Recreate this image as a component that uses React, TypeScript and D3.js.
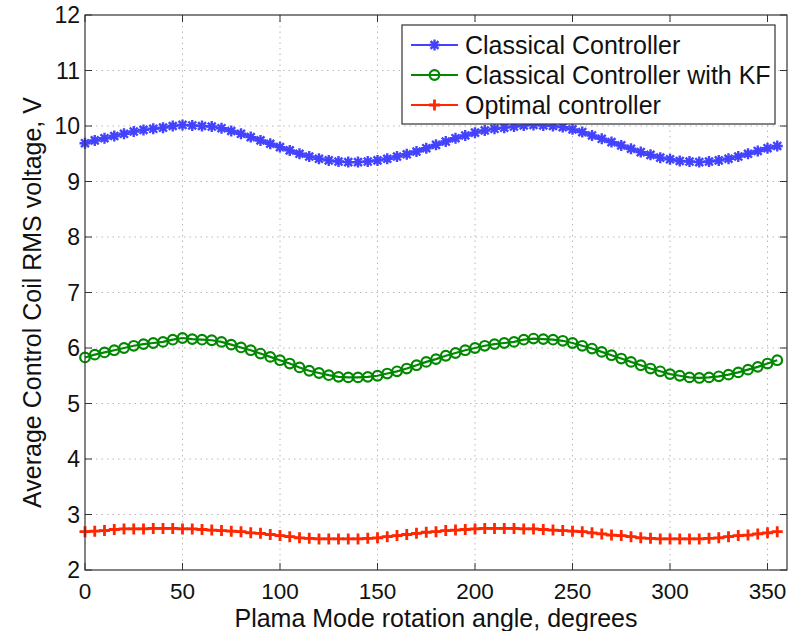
import React from "react";
import * as d3 from "d3";

const angles: number[] = Array.from({ length: 72 }, (_, i) => i * 5);

const classical: number[] = [
  9.69, 9.74, 9.78, 9.82, 9.86, 9.9, 9.93, 9.95, 9.97, 10.0, 10.02, 10.01,
  10.0, 9.99, 9.96, 9.91, 9.86, 9.8, 9.74, 9.68, 9.62, 9.56, 9.5, 9.45,
  9.41, 9.38, 9.36, 9.35, 9.35, 9.36, 9.38, 9.41, 9.45, 9.49, 9.54, 9.6,
  9.66, 9.72, 9.78, 9.83, 9.88, 9.92, 9.95, 9.97, 9.99, 10.01, 10.02, 10.01,
  10.0, 9.98, 9.94, 9.89, 9.83, 9.77, 9.71, 9.65, 9.59, 9.53, 9.48, 9.43,
  9.4, 9.37, 9.36, 9.35, 9.36, 9.38, 9.41, 9.45, 9.5, 9.55, 9.6, 9.64,
];

const classicalKF: number[] = [
  5.83, 5.88, 5.92, 5.96, 6.0, 6.04, 6.07, 6.09, 6.11, 6.15, 6.18, 6.16,
  6.15, 6.14, 6.11, 6.06, 6.01, 5.96, 5.9, 5.84, 5.78, 5.72, 5.65, 5.59,
  5.55, 5.51, 5.48, 5.47, 5.47, 5.48, 5.5, 5.54, 5.58, 5.63, 5.69, 5.75,
  5.8, 5.86, 5.91, 5.96, 6.0, 6.04, 6.07, 6.09, 6.11, 6.15, 6.17, 6.16,
  6.15, 6.13, 6.09, 6.04, 5.99, 5.93, 5.87, 5.81, 5.75, 5.69, 5.63, 5.58,
  5.53, 5.5, 5.47, 5.46, 5.47, 5.49, 5.52, 5.56, 5.61, 5.66, 5.72, 5.78,
];

const optimal: number[] = [
  2.69, 2.7, 2.71, 2.73, 2.74, 2.74, 2.74, 2.75, 2.75, 2.75, 2.74, 2.74,
  2.73, 2.72, 2.71, 2.7, 2.69, 2.67, 2.66, 2.64, 2.62, 2.6, 2.58, 2.57,
  2.56, 2.56, 2.56, 2.56, 2.56, 2.57, 2.58, 2.6, 2.62, 2.64, 2.66, 2.68,
  2.69, 2.71, 2.72, 2.73, 2.74, 2.75, 2.75, 2.75, 2.75, 2.74, 2.74, 2.73,
  2.72, 2.71, 2.7, 2.69, 2.67, 2.65, 2.63, 2.62, 2.6, 2.58, 2.57, 2.56,
  2.56, 2.56, 2.56, 2.56, 2.57, 2.58, 2.6, 2.62, 2.63, 2.65, 2.67, 2.69,
];

const seriesNames: string[] = [
  "Classical Controller",
  "Classical Controller with KF",
  "Optimal controller",
];

const xTicks: number[] = [0, 50, 100, 150, 200, 250, 300, 350];
const yTicks: number[] = [2, 3, 4, 5, 6, 7, 8, 9, 10, 11, 12];

const xLabel = "Plama Mode rotation angle, degrees";
const yLabel = "Average Control Coil RMS voltage, V";

const W = 796;
const H = 631;
const L = 85;
const R = 787;
const T = 15;
const B = 570;
const FONT = "'Liberation Sans', Arial, Helvetica, sans-serif";

const colors = ["#4343ff", "#008800", "#ff2600"];

type MarkerKind = "star" | "circle" | "plus";
const kinds: MarkerKind[] = ["star", "circle", "plus"];

function Marker({ kind, x, y, color }: { kind: MarkerKind; x: number; y: number; color: string }) {
  if (kind === "circle") {
    return <circle cx={x} cy={y} r={4.8} fill="none" stroke={color} strokeWidth={2.2} />;
  }
  const s = 5.5;
  if (kind === "plus") {
    return (
      <path
        d={`M${x - s},${y}H${x + s}M${x},${y - s}V${y + s}`}
        stroke={color}
        strokeWidth={2.8}
        fill="none"
      />
    );
  }
  const d = s * 0.72;
  return (
    <path
      d={`M${x - s},${y}H${x + s}M${x},${y - s}V${y + s}M${x - d},${y - d}L${x + d},${y + d}M${x - d},${y + d}L${x + d},${y - d}`}
      stroke={color}
      strokeWidth={2.4}
      fill="none"
    />
  );
}

export default function App() {
  const x = d3.scaleLinear().domain([0, 360]).range([L, R]);
  const y = d3.scaleLinear().domain([2, 12]).range([B, T]);
  const data = [classical, classicalKF, optimal];
  const line = d3
    .line<number>()
    .x((_, i) => x(angles[i]))
    .y((v) => y(v));

  const legX0 = 411;
  const legX1 = 458;
  const legRows = [45, 75, 105];

  return (
    <svg
      width={W}
      height={H}
      style={{ position: "absolute", left: 0, top: 0, background: "#fff" }}
      fontFamily={FONT}
    >
      <rect x={0} y={0} width={W} height={H} fill="#fff" />
      {/* grid */}
      <g stroke="#b8b8b8" strokeWidth={1} strokeDasharray="1.5,4">
        {xTicks.filter((t) => t > 0).map((t) => (
          <line key={"gx" + t} x1={x(t)} x2={x(t)} y1={T} y2={B} />
        ))}
        {yTicks.filter((t) => t > 2 && t < 12).map((t) => (
          <line key={"gy" + t} x1={L} x2={R} y1={y(t)} y2={y(t)} />
        ))}
      </g>
      {/* ticks */}
      <g stroke="#333" strokeWidth={1}>
        {xTicks.map((t) => (
          <g key={"tx" + t}>
            <line x1={x(t)} x2={x(t)} y1={B} y2={B - 7} />
            <line x1={x(t)} x2={x(t)} y1={T} y2={T + 7} />
          </g>
        ))}
        {yTicks.map((t) => (
          <g key={"ty" + t}>
            <line x1={L} x2={L + 7} y1={y(t)} y2={y(t)} />
            <line x1={R} x2={R - 7} y1={y(t)} y2={y(t)} />
          </g>
        ))}
      </g>
      {/* series */}
      {data.map((vals, si) => (
        <g key={"s" + si}>
          <path d={line(vals) || ""} fill="none" stroke={colors[si]} strokeWidth={2.2} />
          {vals.map((v, i) => (
            <Marker key={i} kind={kinds[si]} x={x(angles[i])} y={y(v)} color={colors[si]} />
          ))}
        </g>
      ))}
      {/* axes box */}
      <rect x={L} y={T} width={R - L} height={B - T} fill="none" stroke="#333" strokeWidth={1.2} />
      {/* tick labels */}
      <g fontSize={22.5} fill="#111">
        {xTicks.map((t) => (
          <text key={"lx" + t} x={x(t)} y={599} textAnchor="middle">
            {t}
          </text>
        ))}
      </g>
      <g fontSize={23} fill="#111">
        {yTicks.map((t) => (
          <text key={"ly" + t} x={L - 5} y={y(t) + 8} textAnchor="end">
            {t}
          </text>
        ))}
      </g>
      <text x={(L + R) / 2} y={626.5} textAnchor="middle" fontSize={25} fill="#111">
        {xLabel}
      </text>
      <text
        transform={`translate(41, ${(T + B) / 2 + 10}) rotate(-90)`}
        textAnchor="middle"
        fontSize={25}
        fill="#111"
      >
        {yLabel}
      </text>
      {/* legend */}
      <rect x={402} y={25} width={373} height={99} fill="#fff" stroke="#333" strokeWidth={1.2} />
      {seriesNames.map((name, i) => (
        <g key={"lg" + i}>
          <line x1={legX0} x2={legX1} y1={legRows[i]} y2={legRows[i]} stroke={colors[i]} strokeWidth={2.2} />
          <Marker kind={kinds[i]} x={(legX0 + legX1) / 2} y={legRows[i]} color={colors[i]} />
          <text x={465} y={legRows[i] + 9} fontSize={25} fill="#111">
            {name}
          </text>
        </g>
      ))}
    </svg>
  );
}
